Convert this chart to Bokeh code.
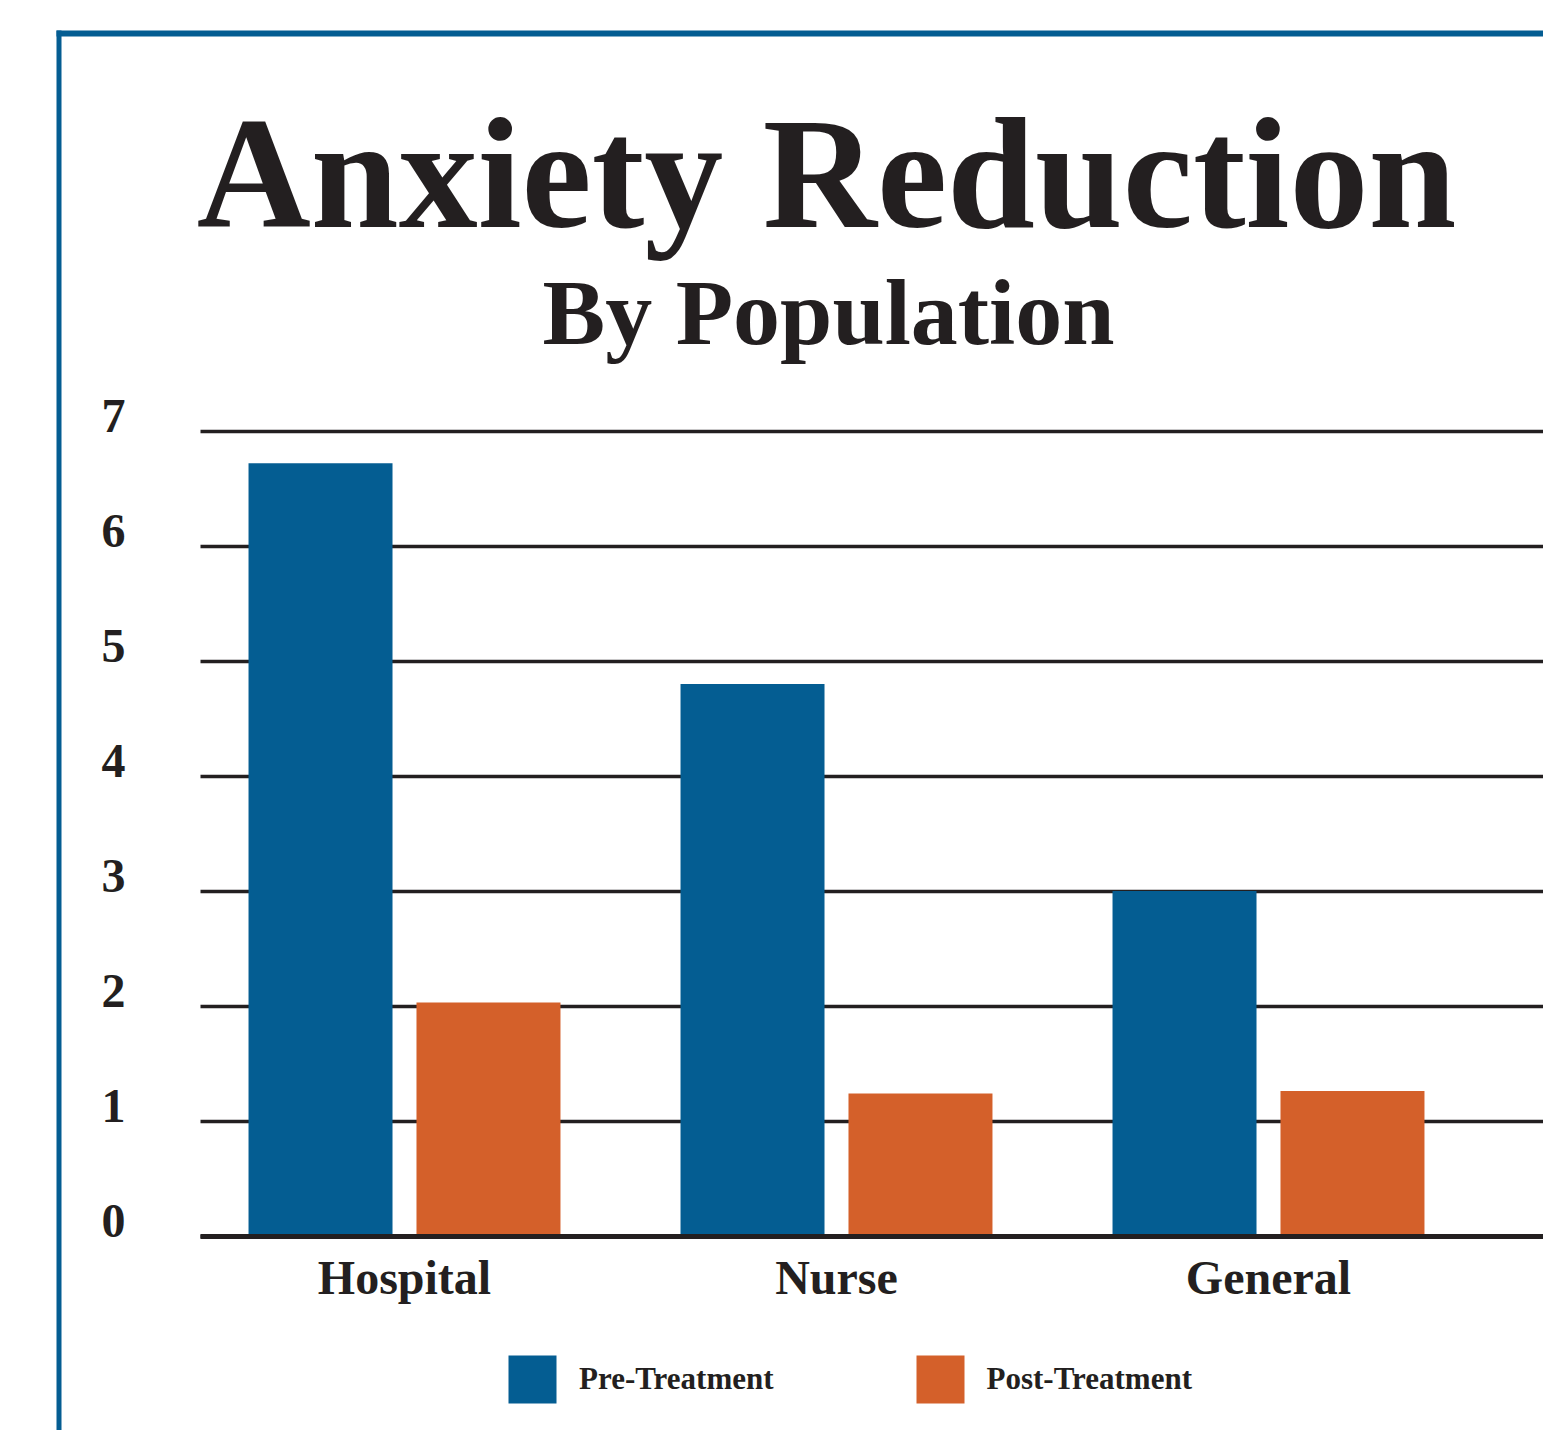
from bokeh.plotting import figure
from bokeh.models import (Range1d, FixedTicker, Label, BoxAnnotation, Legend, LegendItem,
                          ColumnDataSource, LinearAxis)
from bokeh.transform import dodge
from bokeh.embed import file_html
from bokeh.resources import INLINE

# ---- data ----
categories = ["Hospital", "Nurse", "General"]
pre_treatment = [6.72, 4.80, 3.00]
post_treatment = [2.03, 1.24, 1.26]
y_ticks = [0, 1, 2, 3, 4, 5, 6, 7]
series_names = ["Pre-Treatment", "Post-Treatment"]
title_text = "Anxiety Reduction"
subtitle_text = "By Population"

BLUE = "#045D92"
ORANGE = "#D4602A"
INK = "#231F20"
FONT = "Liberation Serif"

W, H = 1543, 1430
idx = list(range(len(categories)))

# pixel layout (frame covers the whole canvas)
PX_UNIT_X = 432.0          # px per category
X0_PX = 404.0              # px of first category centre
PLOT_LEFT_PX = 200.0       # where the grid starts
PX_UNIT_Y = 115.0          # px per y unit
Y0_PX = 1235.5             # px of y = 0
LABEL_RAISE_PX = 15.0      # y tick labels sit just above their grid line

x_start = -X0_PX / PX_UNIT_X
x_end = (W - X0_PX) / PX_UNIT_X
x_left = (PLOT_LEFT_PX - X0_PX) / PX_UNIT_X
y_start = -(H - Y0_PX) / PX_UNIT_Y
y_end = Y0_PX / PX_UNIT_Y
d = LABEL_RAISE_PX / PX_UNIT_Y

p = figure(width=W, height=H, output_backend="svg", toolbar_location=None,
           x_range=Range1d(x_start, x_end), y_range=Range1d(y_start, y_end),
           y_axis_location=None,
           min_border_left=0, min_border_right=0, min_border_top=0,
           min_border_bottom=0, background_fill_color="white",
           border_fill_color="white", outline_line_color=None)
p.extra_y_ranges = {"labels": Range1d(y_start - d, y_end - d)}

src = ColumnDataSource(dict(x=idx, pre=pre_treatment, post=post_treatment))
r_pre = p.vbar(x=dodge("x", -0.1944), top="pre", width=0.3333, bottom=0, source=src,
               fill_color=BLUE, line_color=None)
r_post = p.vbar(x=dodge("x", 0.1944), top="post", width=0.3333, bottom=0, source=src,
                fill_color=ORANGE, line_color=None)

# grid
p.xgrid.visible = False
p.ygrid.ticker = FixedTicker(ticks=y_ticks)
p.ygrid.grid_line_color = INK
p.ygrid.grid_line_width = 3.5
try:
    p.ygrid.cross_bounds = (x_left, x_end)
except Exception:
    p.add_layout(BoxAnnotation(left=0, right=PLOT_LEFT_PX, top=0, bottom=H,
                               left_units="canvas", right_units="canvas",
                               top_units="canvas", bottom_units="canvas",
                               fill_color="white", fill_alpha=1, line_color=None,
                               level="underlay"))

# y axis (fixed at the left edge of the grid)
yax = LinearAxis(y_range_name="labels", fixed_location=x_left,
                 ticker=FixedTicker(ticks=y_ticks),
                 axis_line_color=None, major_tick_line_color=None,
                 minor_tick_line_color=None, major_tick_in=0, major_tick_out=0,
                 major_label_standoff=75, major_label_text_font=FONT,
                 major_label_text_font_style="bold", major_label_text_font_size="48px",
                 major_label_text_color=INK)
p.add_layout(yax, "left")

# x axis (fixed at y = 0)
p.xaxis.fixed_location = 0
p.xaxis.bounds = (x_left, x_end)
p.xaxis.ticker = FixedTicker(ticks=idx)
p.xaxis.major_label_overrides = {i: c for i, c in zip(idx, categories)}
p.xaxis.axis_line_color = INK
p.xaxis.axis_line_width = 5
p.xaxis.major_tick_line_color = None
p.xaxis.minor_tick_line_color = None
p.xaxis.major_tick_in = 0
p.xaxis.major_tick_out = 0
p.xaxis.major_label_standoff = 15
p.xaxis.major_label_text_font = FONT
p.xaxis.major_label_text_font_style = "bold"
p.xaxis.major_label_text_font_size = "48px"
p.xaxis.major_label_text_color = INK

# titles
p.add_layout(Label(x=826, y=173, x_units="canvas", y_units="canvas", text=title_text,
                   text_font=FONT, text_font_style="bold", text_font_size="158px",
                   text_color=INK, text_align="center", text_baseline="alphabetic"))
p.add_layout(Label(x=828, y=311, x_units="canvas", y_units="canvas", text=subtitle_text,
                   text_font=FONT, text_font_style="bold", text_font_size="94px",
                   text_color=INK, text_align="center", text_baseline="alphabetic"))

# blue frame
p.add_layout(BoxAnnotation(left=56, right=61, top=30, bottom=H, left_units="canvas",
                           right_units="canvas", top_units="canvas", bottom_units="canvas",
                           fill_color=BLUE, fill_alpha=1, line_color=None, level="overlay"))
p.add_layout(BoxAnnotation(left=56, right=W, top=30, bottom=36, left_units="canvas",
                           right_units="canvas", top_units="canvas", bottom_units="canvas",
                           fill_color=BLUE, fill_alpha=1, line_color=None, level="overlay"))

# legend
legend = Legend(items=[LegendItem(label=series_names[0], renderers=[r_pre]),
                       LegendItem(label=series_names[1], renderers=[r_post])],
                orientation="horizontal", location=(502, 21), glyph_width=60,
                glyph_height=60, label_standoff=17, spacing=136, padding=10, margin=0,
                border_line_color=None, background_fill_alpha=0,
                label_text_font=FONT, label_text_font_style="bold",
                label_text_font_size="31px", label_text_color=INK)
p.add_layout(legend, "center")

open("out.html", "w").write(file_html(p, INLINE))
